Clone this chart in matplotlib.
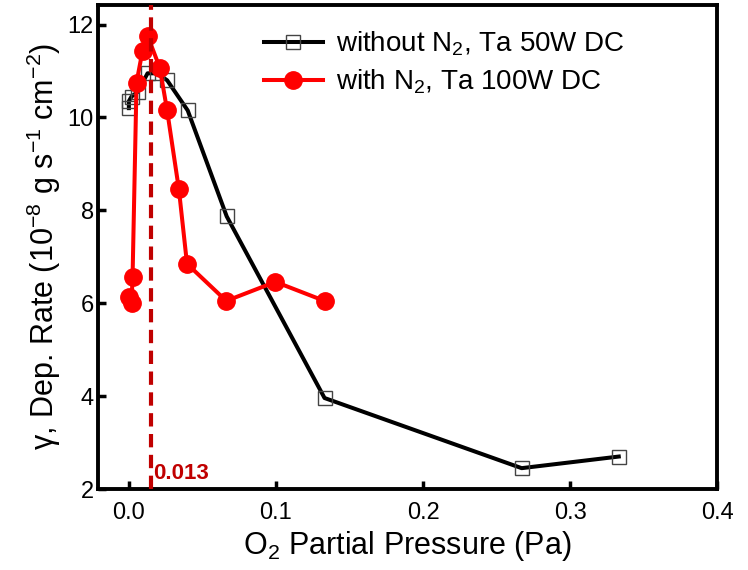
import numpy as np
import matplotlib
matplotlib.use('Agg')
import matplotlib.pyplot as plt

plt.rcParams['font.family'] = ['Liberation Sans', 'DejaVu Sans']
plt.rcParams['mathtext.fontset'] = 'custom'
plt.rcParams['mathtext.rm'] = 'Liberation Sans'
plt.rcParams['mathtext.it'] = 'Liberation Sans:italic'
plt.rcParams['mathtext.bf'] = 'Liberation Sans:bold'

# without N2, Ta 50W DC
x_no_n2 = np.array([0.0, 0.0, 0.0018, 0.006, 0.0127, 0.019, 0.026, 0.040, 0.0665, 0.133, 0.267, 0.333])
y_no_n2 = np.array([10.2, 10.35, 10.45, 10.55, 10.95, 10.95, 10.8, 10.15, 7.87, 3.96, 2.45, 2.7])

# with N2, Ta 100W DC
x_n2 = np.array([0.0, 0.0018, 0.0025, 0.0052, 0.0093, 0.0127, 0.021, 0.026, 0.034, 0.0395, 0.0662, 0.0996, 0.133])
y_n2 = np.array([6.13, 6.0, 6.56, 10.75, 11.44, 11.76, 11.07, 10.15, 8.45, 6.85, 6.05, 6.46, 6.05])

x_mark = 0.0152
mark_label = '0.013'

fig = plt.figure(figsize=(7.48, 5.7), dpi=100)
ax = fig.add_axes([0.131, 0.142, 0.828, 0.85])

ax.plot(x_no_n2, y_no_n2, color='black', lw=2.9, marker='s', ms=10,
        mfc='none', mec='#444444', mew=1.0, label='without N$_2$, Ta 50W DC', zorder=3)
ax.plot(x_n2, y_n2, color='red', lw=2.9, marker='o', ms=12.5,
        mfc='red', mec='red', label='with N$_2$, Ta 100W DC', zorder=4)

# dashed marker line
ax.axvline(x_mark, color='#C00000', lw=3, ls=(0, (3.2, 1.8)), zorder=5)
ax.text(x_mark + 0.0012, 2.34, mark_label, color='#C00000', fontsize=16,
        fontweight='bold', ha='left', va='center')

ax.set_xlim(-0.021, 0.4)
ax.set_ylim(2, 12.43)
ax.set_xticks([0.0, 0.1, 0.2, 0.3, 0.4])
ax.set_yticks([2, 4, 6, 8, 10, 12])
ax.tick_params(direction='in', length=6, width=2.5, labelsize=17)
ax.tick_params(axis='x', pad=9)
ax.tick_params(axis='y', pad=3)
for s in ax.spines.values():
    s.set_linewidth(2.8)

ax.set_xlabel('O$_2$ Partial Pressure (Pa)', fontsize=22, labelpad=4)
ax.set_ylabel('γ, Dep. Rate (10$^{-8}$ g s$^{-1}$ cm$^{-2}$)', fontsize=22, labelpad=3)

ax.legend(loc='upper left', frameon=False, fontsize=20, numpoints=1,
          handlelength=2.1, handletextpad=0.5, labelspacing=0.35,
          bbox_to_anchor=(0.228, 1.0))

plt.savefig('out.png', dpi=100)
